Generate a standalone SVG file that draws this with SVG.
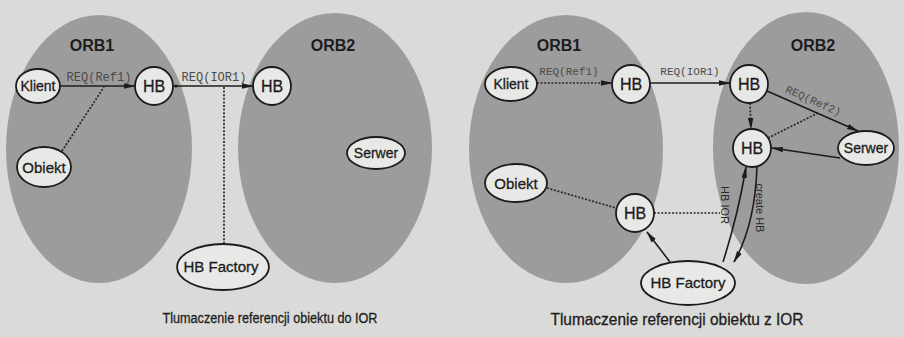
<svg xmlns="http://www.w3.org/2000/svg" width="904" height="337" viewBox="0 0 904 337">
  <defs>
    <marker id="arrow" viewBox="0 0 12 6" refX="11" refY="3" markerWidth="12" markerHeight="6" markerUnits="userSpaceOnUse" orient="auto">
      <path d="M0,0.3 L12,3 L0,5.7 Z" fill="#1c1c1c"/>
    </marker>
    <style>
      .orb { fill: #9c9c9c; }
      .node { fill: #e8e8e6; stroke: #1c1c1c; stroke-width: 1.8; }
      .nt { font-family: "Liberation Sans", Arial, Helvetica, sans-serif; font-size: 14px; fill: #1c1c1c; stroke: #1c1c1c; stroke-width: 0.3; text-anchor: middle; }
      .hb { font-size: 16px; }
      .big { font-size: 15px; }
      .orbt { font-family: "Liberation Sans", Arial, Helvetica, sans-serif; font-size: 16px; font-weight: bold; fill: #1c1c1c; text-anchor: middle; }
      .lbl { font-family: "Liberation Mono", "Courier New", monospace; font-size: 12px; fill: #4a4a4a; text-anchor: middle; }
      .lbl.s { font-size: 11px; }
      .vl { font-family: "Liberation Sans", Arial, Helvetica, sans-serif; font-size: 11px; fill: #2a2a2a; text-anchor: middle; }
      .cap { font-family: "Liberation Sans", Arial, Helvetica, sans-serif; fill: #1c1c1c; stroke: #1c1c1c; stroke-width: 0.3; text-anchor: middle; }
      .solid { stroke: #1c1c1c; stroke-width: 1.6; fill: none; }
      .dot { stroke: #262626; stroke-width: 1.7; stroke-dasharray: 2 1.6; fill: none; }
    </style>
  </defs>

  <rect x="0" y="0" width="904" height="337" fill="#dadad8"/>

  <!-- ORB regions -->
  <g id="orbs">
    <ellipse class="orb" cx="99" cy="149" rx="93" ry="134"/>
    <ellipse class="orb" cx="335" cy="148" rx="97" ry="135"/>
    <ellipse class="orb" cx="566" cy="149" rx="97" ry="134"/>
    <ellipse class="orb" cx="806" cy="148" rx="93" ry="136"/>
    <text class="orbt" x="92" y="51">ORB1</text>
    <text class="orbt" x="333" y="51">ORB2</text>
    <text class="orbt" x="559" y="51">ORB1</text>
    <text class="orbt" x="813" y="51">ORB2</text>
  </g>

  <!-- connectors -->
  <g id="connectors">
    <!-- left: translation of an object reference into an IOR -->
    <line class="solid" x1="60" y1="86" x2="135" y2="86" marker-end="url(#arrow)"/>
    <text class="lbl" x="99" y="81">REQ(Ref1)</text>
    <line class="solid" x1="174" y1="86" x2="253" y2="86" marker-end="url(#arrow)"/>
    <circle cx="176" cy="86" r="1.6" fill="#1c1c1c"/>
    <text class="lbl" x="214" y="81">REQ(IOR1)</text>
    <line class="dot" x1="62" y1="151" x2="104" y2="87"/>
    <line class="dot" x1="224" y1="87" x2="224" y2="244"/>

    <!-- right: translation of an IOR into an object reference -->
    <line class="dot" x1="537" y1="83" x2="612" y2="83" marker-end="url(#arrow)"/>
    <text class="lbl s" x="569" y="75">REQ(Ref1)</text>
    <line class="solid" x1="650" y1="83" x2="730" y2="83" marker-end="url(#arrow)"/>
    <text class="lbl s" x="690" y="75">REQ(IOR1)</text>
    <line class="solid" x1="767" y1="91" x2="858" y2="131" marker-end="url(#arrow)"/>
    <text class="lbl s" x="812" y="104" transform="rotate(24 812 104)">REQ(Ref2)</text>
    <line class="dot" x1="768" y1="138" x2="818" y2="113"/>
    <line class="dot" x1="750" y1="103" x2="751" y2="129" marker-end="url(#arrow)"/>
    <line class="solid" x1="840" y1="158" x2="772" y2="148" marker-end="url(#arrow)"/>
    <line class="dot" x1="547" y1="188" x2="616" y2="208"/>
    <line class="dot" x1="654" y1="213" x2="720" y2="213"/>
    <line class="solid" x1="670" y1="262" x2="647" y2="232" marker-end="url(#arrow)"/>
    <path class="solid" d="M723,262 Q738,215 746,167" marker-end="url(#arrow)"/>
    <path class="solid" d="M757,167 Q755,225 734,262" marker-end="url(#arrow)"/>
    <text class="vl" x="205" y="-721" transform="rotate(90)">HB IOR</text>
    <text class="vl" x="208" y="-756" transform="rotate(90)">create HB</text>
  </g>

  <!-- left panel nodes -->
  <g id="l-klient">
    <ellipse class="node" cx="38" cy="86" rx="22" ry="17"/>
    <text class="nt" x="38" y="91">Klient</text>
  </g>
  <g id="l-hb1">
    <circle class="node" cx="154" cy="86" r="19"/>
    <text class="nt hb" x="154" y="92">HB</text>
  </g>
  <g id="l-hb2">
    <circle class="node" cx="272" cy="86" r="19"/>
    <text class="nt hb" x="272" y="92">HB</text>
  </g>
  <g id="l-obiekt">
    <ellipse class="node" cx="44" cy="167" rx="27" ry="20"/>
    <text class="nt big" x="44" y="173">Obiekt</text>
  </g>
  <g id="l-serwer">
    <ellipse class="node" cx="376" cy="153" rx="29" ry="16"/>
    <text class="nt" x="376" y="158">Serwer</text>
  </g>
  <g id="l-factory">
    <ellipse class="node" cx="223" cy="267" rx="46" ry="23"/>
    <text class="nt big" x="221" y="272">HB Factory</text>
  </g>

  <!-- right panel nodes -->
  <g id="r-klient">
    <ellipse class="node" cx="511" cy="84" rx="26" ry="17"/>
    <text class="nt" x="511" y="89">Klient</text>
  </g>
  <g id="r-hb1">
    <circle class="node" cx="631" cy="84" r="19"/>
    <text class="nt hb" x="631" y="90">HB</text>
  </g>
  <g id="r-hb2">
    <circle class="node" cx="749" cy="84" r="19"/>
    <text class="nt hb" x="749" y="90">HB</text>
  </g>
  <g id="r-hb3">
    <circle class="node" cx="752" cy="148" r="19"/>
    <text class="nt hb" x="752" y="154">HB</text>
  </g>
  <g id="r-serwer">
    <ellipse class="node" cx="866" cy="148" rx="28" ry="17"/>
    <text class="nt" x="866" y="153">Serwer</text>
  </g>
  <g id="r-obiekt">
    <ellipse class="node" cx="516" cy="183" rx="31" ry="19"/>
    <text class="nt big" x="516" y="189">Obiekt</text>
  </g>
  <g id="r-hb4">
    <circle class="node" cx="635" cy="213" r="19"/>
    <text class="nt hb" x="635" y="219">HB</text>
  </g>
  <g id="r-factory">
    <ellipse class="node" cx="688" cy="283" rx="47" ry="22"/>
    <text class="nt big" x="688" y="288">HB Factory</text>
  </g>

  <!-- captions -->
  <g id="captions">
    <text class="cap" x="270" y="323" font-size="15.5" textLength="215" lengthAdjust="spacingAndGlyphs">Tlumaczenie referencji obiektu do IOR</text>
    <text class="cap" x="677" y="325" font-size="16.5" textLength="253" lengthAdjust="spacingAndGlyphs">Tlumaczenie referencji obiektu z IOR</text>
  </g>
</svg>
